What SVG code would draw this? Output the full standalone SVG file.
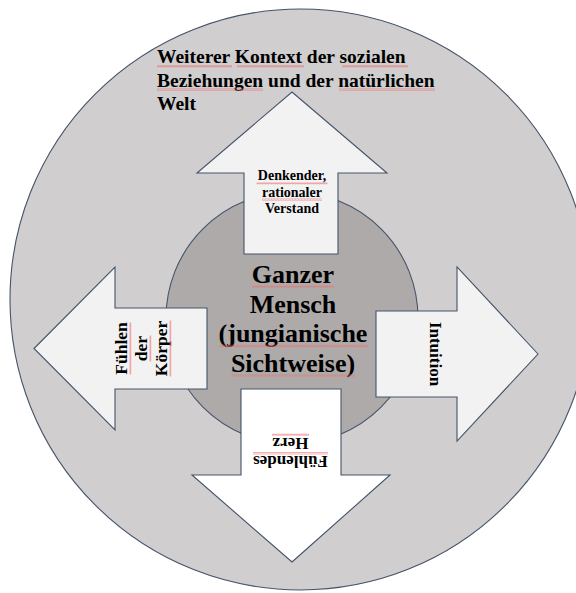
<svg xmlns="http://www.w3.org/2000/svg" width="576" height="593" viewBox="0 0 576 593">
<style>
.ln{stroke:#44546a;stroke-width:1.1}
.arr{fill:#f2f2f2;stroke:#44546a;stroke-width:1.1;stroke-linejoin:miter}
.t{font-family:"Liberation Serif","Times New Roman",serif;font-weight:bold;fill:#000}
.sq{fill:url(#sq)}
</style>
<defs>
<pattern id="sq" width="3" height="2.5" patternUnits="userSpaceOnUse">
<path d="M0 2 L0.75 0.5 L1.5 2 L2.25 0.5 L3 2" fill="none" stroke="#f06a6a" stroke-width="0.6"/>
</pattern>
</defs>
<rect width="576" height="593" fill="#fff"/>
<g id="outer">
<circle cx="300.5" cy="299.5" r="290.5" fill="#d0cece" class="ln"/>
<text class="t" font-size="19.5"><tspan x="157" y="63">Weiterer Kontext der sozialen</tspan><tspan x="157" y="86.5">Beziehungen und der natürlichen</tspan><tspan x="157" y="110">Welt</tspan></text>
<rect class="sq" x="157" y="65" width="75" height="2.5"/>
<rect class="sq" x="237" y="65" width="67" height="2.5"/>
<rect class="sq" x="342" y="65" width="66" height="2.5"/>
<rect class="sq" x="157" y="88.5" width="106" height="2.5"/>
<rect class="sq" x="339" y="88.5" width="96" height="2.5"/>
</g>
<g id="inner">
<circle cx="292" cy="318" r="126" fill="#aeaaaa" class="ln"/>
</g>
<g id="up">
<polygon class="arr" points="292,92 387,173 338,173 338,254 244,254 244,173 197,173"/>
<text class="t" font-size="14" text-anchor="middle"><tspan x="292" y="180">Denkender,</tspan><tspan x="292" y="196.5">rationaler</tspan><tspan x="292" y="213">Verstand</tspan></text>
<rect class="sq" x="256.5" y="182" width="71" height="2.5"/>
<rect class="sq" x="262" y="198.5" width="60" height="2.5"/>
</g>
<g id="left">
<polygon class="arr" points="34,348.5 115,267 115,308 207,308 207,389 115,389 115,430"/>
<g transform="translate(127,348.5) rotate(-90)">
<text class="t" font-size="17.5" text-anchor="middle"><tspan x="0" y="0">Fühlen</tspan><tspan x="0" y="20">der</tspan><tspan x="0" y="40">Körper</tspan></text>
<rect class="sq" x="-26" y="2" width="52" height="2.5"/>
<rect class="sq" x="-13" y="22" width="26" height="2.5"/>
<rect class="sq" x="-28" y="42" width="56" height="2.5"/>
</g>
</g>
<g id="right">
<polygon class="arr" points="538,354 457,267 457,311 376,311 376,397 457,397 457,441"/>
<text class="t" font-size="17" text-anchor="middle" transform="translate(430,354) rotate(90)" x="0" y="0">Intuition</text>
</g>
<g id="down">
<polygon class="arr" style="fill:#fff" points="292,562 390,475 341,475 341,389 241,389 241,475 192,475"/>
<g transform="translate(290.5,456) rotate(180)">
<text class="t" font-size="17" text-anchor="middle"><tspan x="0" y="0">Fühlendes</tspan><tspan x="0" y="18.5">Herz</tspan></text>
<rect class="sq" x="-37.5" y="1.5" width="75" height="2.5"/>
<rect class="sq" x="-18.5" y="20" width="37" height="2.5"/>
</g>
</g>
<g id="connectors"/>
<g id="center">
<text class="t" font-size="26" text-anchor="middle"><tspan x="293" y="283">Ganzer</tspan><tspan x="293" y="312.5">Mensch</tspan><tspan x="293" y="342">(jungianische</tspan><tspan x="293" y="371.5">Sichtweise)</tspan></text>
<rect class="sq" x="252" y="285.5" width="82" height="2.5"/>
<rect class="sq" x="219" y="344.5" width="149" height="2.5"/>
<rect class="sq" x="231" y="374" width="124" height="2.5"/>
</g>
</svg>
